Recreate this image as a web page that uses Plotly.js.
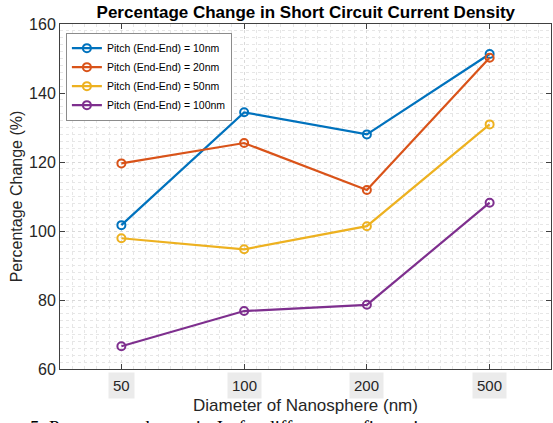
<!DOCTYPE html>
<html>
<head>
<meta charset="utf-8">
<script src="https://cdn.plot.ly/plotly-3.0.1.min.js"></script>
<style>html,body{margin:0;padding:0;background:#fff;}#chart{width:553px;height:423px;}</style>
</head>
<body>
<div id="chart"></div>
<script>
const categories = [1, 2, 3, 4];
const tickLabels = ['50', '100', '200', '500'];
const seriesNames = ['Pitch (End-End) = 10nm', 'Pitch (End-End) = 20nm', 'Pitch (End-End) = 50nm', 'Pitch (End-End) = 100nm'];
const pitch10 = [101.7, 134.4, 128.0, 151.3];
const pitch20 = [119.6, 125.5, 111.9, 150.2];
const pitch50 = [97.9, 94.7, 101.4, 130.9];
const pitch100 = [66.6, 76.8, 78.6, 108.2];
const colors = ['#0072BD', '#D95319', '#EDB120', '#7E2F8E'];
const allSeries = [pitch10, pitch20, pitch50, pitch100];
const captionText = '5. Percentage change in J<sub>sc</sub> for different configurations';

const traces = allSeries.map((ys, i) => ({
  x: categories, y: ys, type: 'scatter', mode: 'lines+markers',
  name: seriesNames[i],
  line: {color: colors[i], width: 2.2},
  marker: {symbol: 'circle-open', size: 8, color: colors[i], line: {width: 2, color: colors[i]}}
}));

const annotations = tickLabels.map((t, i) => ({
  x: categories[i], y: 0, xref: 'x', yref: 'paper', yanchor: 'top', yshift: -3,
  text: t, showarrow: false, bgcolor: '#ebebeb', borderpad: 4,
  font: {family: 'Liberation Sans, Arial, sans-serif', size: 15, color: '#262626'}
}));
annotations.push({
  x: -0.066, y: -0.133, xref: 'paper', yref: 'paper', xanchor: 'left', yanchor: 'top',
  text: captionText, showarrow: false,
  font: {family: 'Liberation Serif, Times New Roman, serif', size: 19, color: '#000000'}
});

const layout = {
  width: 553, height: 423,
  margin: {l: 60, r: 2, t: 24, b: 54},
  paper_bgcolor: '#ffffff', plot_bgcolor: '#ffffff',
  font: {family: 'Liberation Sans, Arial, sans-serif', color: '#262626'},
  title: {text: '<b>Percentage Change in Short Circuit Current Density</b>',
    font: {size: 17, color: '#000000'}, x: 0.553, xanchor: 'center', y: 0.971, yanchor: 'middle'},
  xaxis: {
    range: [0.5, 4.5], tickmode: 'array', tickvals: categories, showticklabels: false,
    ticks: 'inside', ticklen: 5, tickcolor: '#404040', mirror: 'ticks',
    showline: true, linecolor: '#404040', linewidth: 1,
    showgrid: true, gridcolor: '#d9d9d9', griddash: 'dot', gridwidth: 1, zeroline: false,
    minor: {tickmode: 'linear', tick0: 0.5, dtick: 0.1, showgrid: true, gridcolor: '#e6e6e6', griddash: 'dot', gridwidth: 1},
    title: {text: 'Diameter of Nanosphere (nm)', font: {size: 17, color: '#262626'}, standoff: 30}
  },
  yaxis: {
    range: [60, 160], tickmode: 'linear', tick0: 60, dtick: 20,
    ticks: 'inside', ticklen: 5, tickcolor: '#404040', mirror: 'ticks',
    showline: true, linecolor: '#404040', linewidth: 1,
    tickfont: {size: 16, color: '#262626'},
    showgrid: true, gridcolor: '#d9d9d9', griddash: 'dot', gridwidth: 1, zeroline: false,
    minor: {tickmode: 'linear', tick0: 60, dtick: 2, showgrid: true, gridcolor: '#e6e6e6', griddash: 'dot', gridwidth: 1},
    title: {text: 'Percentage Change (%)', font: {size: 16, color: '#262626'}, standoff: 2}
  },
  legend: {
    x: 0.012, y: 0.975, xanchor: 'left', yanchor: 'top',
    bgcolor: '#ffffff', bordercolor: '#8c8c8c', borderwidth: 1,
    font: {size: 10.5, color: '#000000'}, tracegroupgap: 0, itemwidth: 30
  },
  showlegend: true,
  annotations: annotations
};

Plotly.newPlot('chart', traces, layout, {displayModeBar: false, staticPlot: true});
</script>
</body>
</html>
